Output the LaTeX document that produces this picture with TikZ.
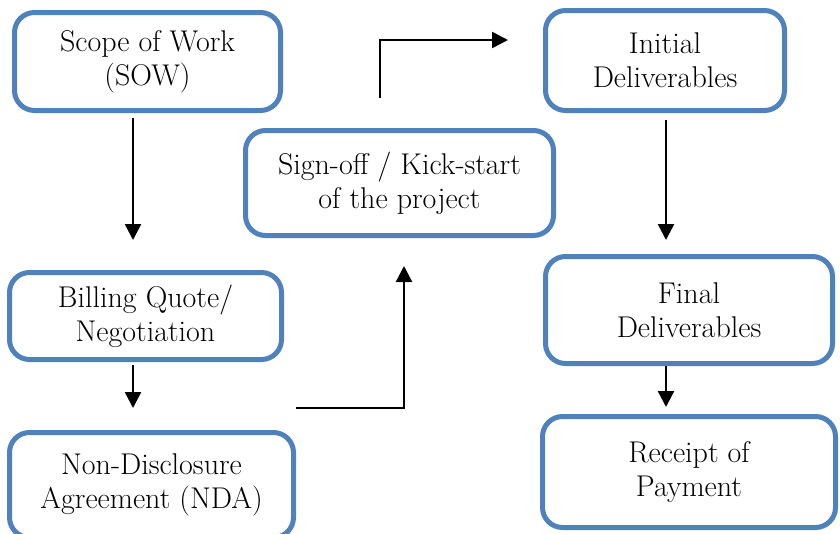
\documentclass[tikz,border=0pt]{standalone}
\usepackage{xcolor}
\usetikzlibrary{arrows.meta}

\begin{document}
\begin{tikzpicture}[x=1pt,y=-1pt,
  stagebox/.style={draw=boxColor,line width=5pt,rounded corners=20pt,fill=white,
    align=center,inner sep=0pt,font=\fontsize{30}{34}\selectfont},
  flow/.style={draw=black,line width=2.4pt,-{Triangle[length=16pt,width=16pt]}}]
\definecolor{boxColor}{RGB}{79,129,189}
\path[use as bounding box] (0,0) rectangle (840,533);

% stages
\node[stagebox,minimum width=266pt,minimum height=98pt] (sow) at (147.5,61.5) {Scope of Work\\(SOW)};
\node[stagebox,minimum width=272pt,minimum height=87pt] (bill) at (145.5,316) {Billing Quote/\\Negotiation};
\node[stagebox,minimum width=284pt,minimum height=105pt] (nda) at (151.5,485) {Non-Disclosure\\Agreement (NDA)};
\node[stagebox,minimum width=308pt,minimum height=105pt] (sign) at (399.5,183) {Sign-off / Kick-start\\of the project};
\node[stagebox,minimum width=239pt,minimum height=100pt] (init) at (665,60.5) {Initial\\Deliverables};
\node[stagebox,minimum width=287pt,minimum height=107pt] (final) at (689,310) {Final\\Deliverables};
\node[stagebox,minimum width=293pt,minimum height=111pt] (rcpt) at (689,472) {Receipt of\\Payment};

% bends
\coordinate (b1) at (404,408);
\coordinate (b2) at (380,40);

% connectors
\draw[flow,shorten <=5pt,shorten >=30pt] ([xshift=-14.5pt]sow.south) -- ([xshift=-14.5pt]sow.south |- bill.north);
\draw[flow,shorten <=3pt,shorten >=22pt] ([xshift=-12.5pt]bill.south) -- ([xshift=-12.5pt]bill.south |- nda.north);
\draw[flow,shorten >=28pt] (nda.north east |- b1) -- (b1) -- (b1 |- sign.south);
\draw[flow,shorten <=30pt,shorten >=35pt] (b2 |- sign.north) -- (b2) -- (b2 -| init.west);
\draw[flow,shorten <=7pt,shorten >=14pt] ([xshift=1pt]init.south) -- ([xshift=1pt]init.south |- final.north);
\draw[flow,shorten >=7pt] ([xshift=-23pt]final.south) -- ([xshift=-23pt]final.south |- rcpt.north);
\end{tikzpicture}
\end{document}
